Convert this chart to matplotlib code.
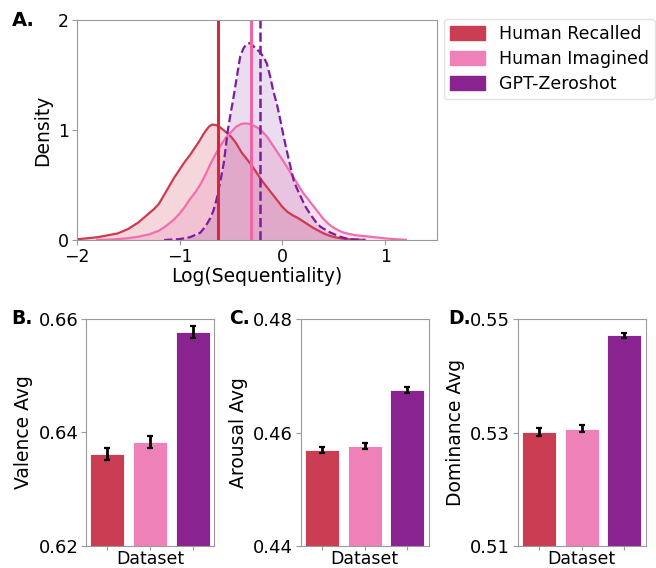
import matplotlib
matplotlib.use("Agg")
import matplotlib.pyplot as plt
from matplotlib.patches import Patch

# ---------------- data ----------------
series_names = ["Human Recalled", "Human Imagined", "GPT-Zeroshot"]

recalled_x = [-2.1, -2.0, -1.8, -1.6, -1.5, -1.4, -1.3, -1.25, -1.2, -1.15, -1.1, -1.05, -1.0,
              -0.95, -0.9, -0.85, -0.8, -0.77, -0.74, -0.71, -0.68, -0.65, -0.62, -0.56, -0.5,
              -0.45, -0.4, -0.35, -0.3, -0.25, -0.2, -0.15, -0.1, -0.05, 0.0, 0.05, 0.1, 0.15,
              0.2, 0.25, 0.3, 0.35, 0.4, 0.45, 0.5, 0.6, 0.7, 0.8]
recalled_y = [0.003, 0.006, 0.025, 0.06, 0.10, 0.16, 0.24, 0.28, 0.33, 0.41, 0.49, 0.57, 0.64,
              0.71, 0.77, 0.84, 0.91, 0.96, 1.0, 1.035, 1.05, 1.045, 1.035, 0.99, 0.94,
              0.88, 0.80, 0.74, 0.68, 0.61, 0.54, 0.48, 0.42, 0.36, 0.30, 0.255, 0.225, 0.20,
              0.17, 0.14, 0.11, 0.085, 0.06, 0.042, 0.027, 0.01, 0.004, 0.001]

imagined_x = [-1.8, -1.7, -1.6, -1.5, -1.4, -1.3, -1.2, -1.15, -1.1, -1.05, -1.0, -0.95, -0.9,
              -0.85, -0.8, -0.75, -0.7, -0.65, -0.6, -0.55, -0.5, -0.45, -0.4, -0.36, -0.32,
              -0.28, -0.24, -0.2, -0.15, -0.1, -0.05, 0.0, 0.05, 0.1, 0.15, 0.2, 0.25, 0.3,
              0.35, 0.4, 0.45, 0.5, 0.55, 0.6, 0.7, 0.8, 0.9, 1.0, 1.1, 1.2]
imagined_y = [0.001, 0.003, 0.008, 0.016, 0.03, 0.05, 0.085, 0.115, 0.15, 0.19, 0.24, 0.30, 0.37,
              0.43, 0.50, 0.59, 0.69, 0.78, 0.86, 0.93, 0.98, 1.03, 1.055, 1.06, 1.055,
              1.04, 1.02, 0.99, 0.94, 0.87, 0.80, 0.73, 0.655, 0.58, 0.505, 0.43, 0.37, 0.31,
              0.25, 0.19, 0.145, 0.11, 0.085, 0.065, 0.045, 0.035, 0.025, 0.015, 0.007, 0.002]

gpt_x = [-1.15, -1.0, -0.9, -0.8, -0.75, -0.7, -0.67, -0.64, -0.6, -0.57, -0.55, -0.53, -0.5,
         -0.48, -0.44, -0.41, -0.38, -0.35, -0.32, -0.29, -0.26, -0.22, -0.18, -0.15, -0.12,
         -0.09, -0.05, -0.02, 0.01, 0.04, 0.075, 0.11, 0.14, 0.17, 0.22, 0.27, 0.32, 0.37,
         0.46, 0.56, 0.63, 0.7, 0.8]
gpt_y = [0.0, 0.008, 0.025, 0.065, 0.12, 0.2, 0.27, 0.37, 0.55, 0.70, 0.85, 1.0, 1.17,
         1.27, 1.50, 1.67, 1.74, 1.78, 1.79, 1.77, 1.74, 1.71, 1.66, 1.60, 1.49,
         1.36, 1.22, 1.09, 0.95, 0.82, 0.68, 0.54, 0.47, 0.41, 0.31, 0.235, 0.17, 0.12,
         0.07, 0.03, 0.012, 0.004, 0.0]

mean_lines = [-0.623, -0.308, -0.218]

valence = [0.6362, 0.6383, 0.6577]
valence_err = [0.0011, 0.0010, 0.0010]
arousal = [0.4569, 0.4576, 0.4675]
arousal_err = [0.00056, 0.00056, 0.0005]
dominance = [0.5301, 0.5307, 0.5471]
dominance_err = [0.00067, 0.00067, 0.0005]

# ---------------- style ----------------
bar_colors = ["#cb3d52", "#ee81b8", "#88238f"]
line_colors = ["#cf3a4f", "#ef6fae", "#7d1c9c"]
fill_alphas = [0.2, 0.2, 0.15]
vline_colors = ["#d32a3b", "#f064a8", "#7d1c9c"]
spine_col = "#9a9a9a"

W, H = 656, 568
fig = plt.figure(figsize=(W / 100, H / 100), dpi=100)

# ---------------- panel A ----------------
axA = fig.add_axes([76.7 / W, 1 - 240 / H, 360 / W, 220 / H])
curves = [(recalled_x, recalled_y, "-"), (imagined_x, imagined_y, "-"), (gpt_x, gpt_y, "--")]
for (cx, cy, ls), lc, fa in zip(curves, line_colors, fill_alphas):
    axA.fill_between(cx, cy, 0, color=lc, alpha=fa, linewidth=0)
    axA.plot(cx, cy, color=lc, linestyle=ls, linewidth=1.6)
for xv, vc, ls in zip(mean_lines, vline_colors, ["-", "-", "--"]):
    axA.axvline(xv, color=vc, linestyle=ls, linewidth=2.2 if ls == "-" else 1.8)
axA.set_xlim(-2, 1.5)
axA.set_ylim(0, 2)
axA.set_xticks([-2, -1, 0, 1])
axA.set_xticklabels(["\u22122", "\u22121", "0", "1"])
axA.set_yticks([0, 1, 2])
axA.tick_params(labelsize=12.5, length=3.5, color=spine_col, pad=2)
axA.set_xlabel("Log(Sequentiality)", fontsize=13.5, labelpad=1)
axA.set_ylabel("Density", fontsize=13.5, labelpad=4)
for s in axA.spines.values():
    s.set_color(spine_col)

handles = [Patch(facecolor=c, edgecolor=c, label=n) for c, n in zip(bar_colors, series_names)]
fig.legend(handles=handles, loc="upper left", bbox_to_anchor=(444 / W, 1 - 19 / H),
           borderaxespad=0, fontsize=12.5, frameon=True, edgecolor="#dddddd",
           handlelength=2.0, handleheight=0.8, labelspacing=0.4, borderpad=0.35,
           handletextpad=0.8, fancybox=True)

fig.text(12 / W, 1 - 20 / H, "A.", fontsize=14, fontweight="bold", va="center", ha="left")

# ---------------- panels B, C, D ----------------
panels = [
    (86, valence, valence_err, "Valence Avg", [0.62, 0.64, 0.66], "B.", 11),
    (300.7, arousal, arousal_err, "Arousal Avg", [0.44, 0.46, 0.48], "C.", 229),
    (517.7, dominance, dominance_err, "Dominance Avg", [0.51, 0.53, 0.55], "D.", 448),
]
xs = [0, 1, 2]
for left, vals, errs, ylab, yt, letter, lx in panels:
    ax = fig.add_axes([left / W, 1 - 546 / H, 128 / W, 227 / H])
    ax.bar(xs, vals, width=0.8, color=bar_colors, edgecolor="white", linewidth=0.6)
    ax.errorbar(xs, vals, yerr=errs, fmt="none", ecolor="black", elinewidth=2,
                capsize=2.5, capthick=1.6)
    ax.set_xlim(-0.5, 2.5)
    ax.set_ylim(yt[0], yt[-1])
    ax.set_yticks(yt)
    ax.set_yticklabels([f"{v:.2f}" for v in yt])
    ax.set_xticks(xs)
    ax.tick_params(axis="x", labelbottom=False, length=3, color=spine_col)
    ax.tick_params(axis="y", labelsize=13, length=3.5, color=spine_col, pad=2)
    ax.set_xlabel("Dataset", fontsize=12.5, labelpad=0)
    ax.set_ylabel(ylab, fontsize=13.5, labelpad=4)
    for s in ax.spines.values():
        s.set_color(spine_col)
    fig.text(lx / W, 1 - 318 / H, letter, fontsize=13.5, fontweight="bold", va="center", ha="left")

fig.savefig("out.png", dpi=100)
